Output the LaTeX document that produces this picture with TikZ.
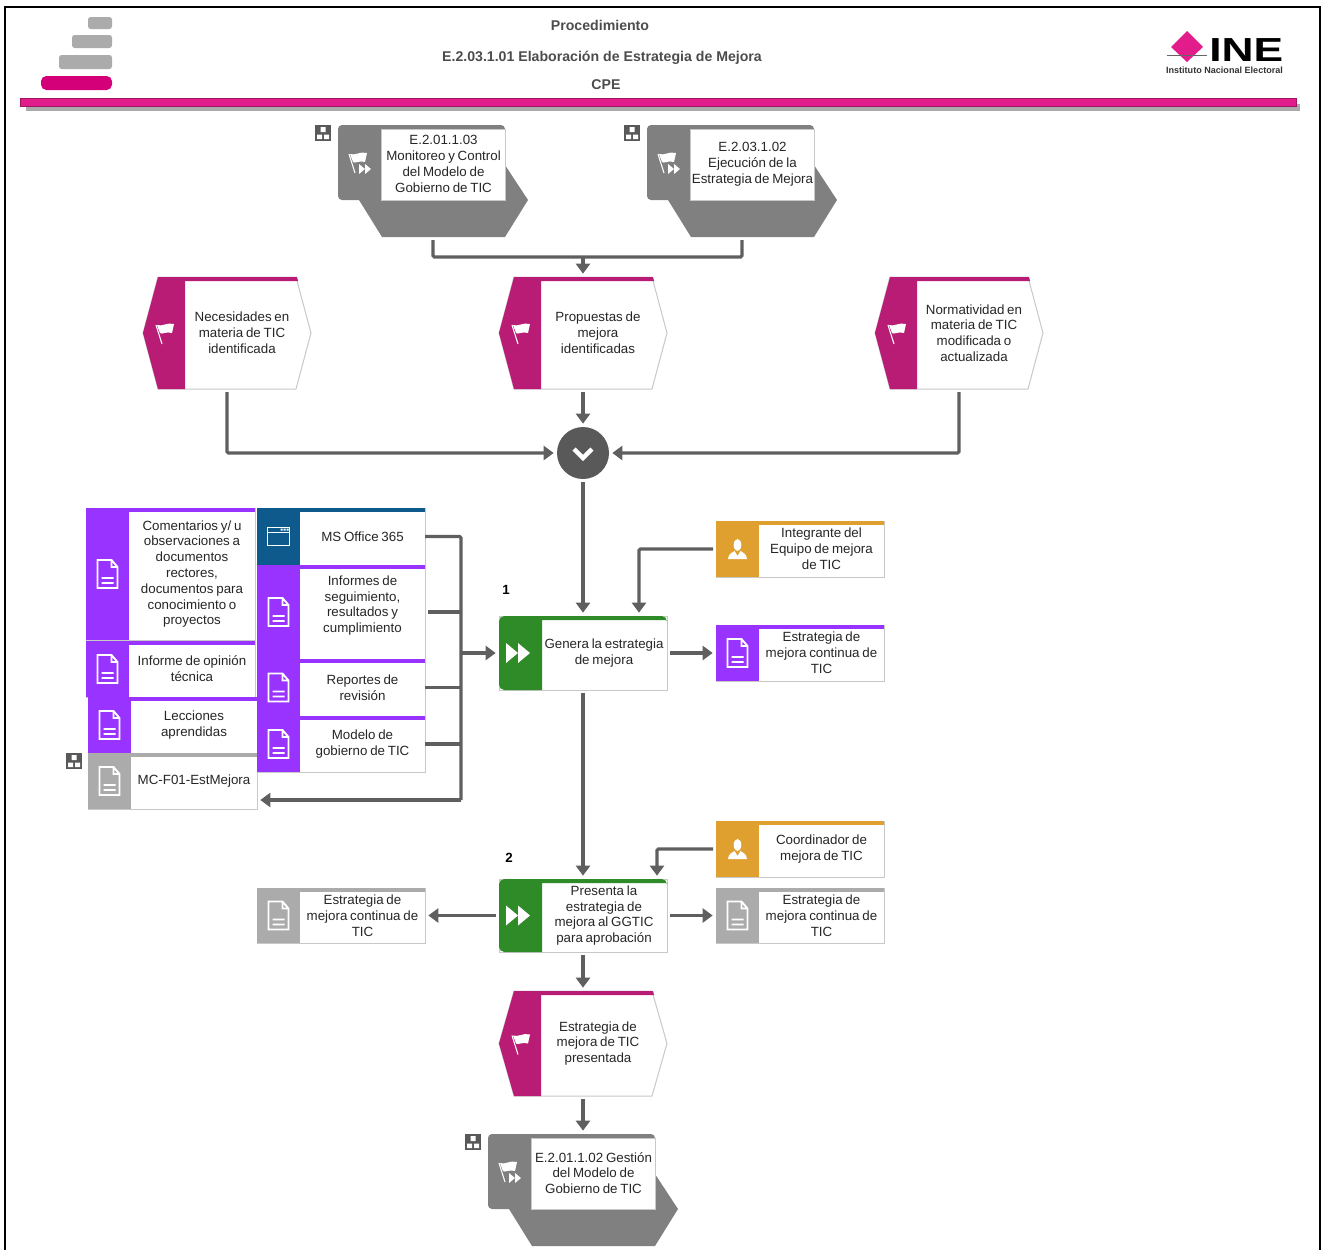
\documentclass[tikz,border=0pt]{standalone}
\usepackage{fontspec}
\setmainfont{Liberation Sans}
\newfontfamily\cardfont{Liberation Sans}[WordSpace=0.75]
\usetikzlibrary{arrows.meta}
\definecolor{wirec}{HTML}{5F5F5F}
\definecolor{edgec}{HTML}{C8C8C8}
\definecolor{docc}{HTML}{9933FF}
\definecolor{evtc}{HTML}{B81C74}
\definecolor{appc}{HTML}{0E5A8C}
\definecolor{rolec}{HTML}{E0A030}
\definecolor{taskc}{HTML}{2E8B27}
\definecolor{filec}{HTML}{ABABAB}
\definecolor{subc}{HTML}{808080}
\definecolor{mergec}{HTML}{595959}
\definecolor{rosec}{HTML}{E31C8C}
\definecolor{logoc}{HTML}{D4007A}
\tikzset{
	cardbody/.style={shape=rectangle, draw=edgec, fill=white, line width=0.75pt, inner sep=0pt, outer sep=0pt},
	cardtext/.style={anchor=center, align=center, inner sep=0pt, font=\cardfont\fontsize{10pt}{11.85pt}\selectfont, text=black!85},
	bound/.style={shape=rectangle, inner sep=0pt, outer sep=0pt, anchor=north west},
	wire/.style={draw=wirec, line width=2.4pt, shorten <=2.25pt, rounded corners=1pt},
	flow/.style={wire, shorten >=2.5pt, -{Triangle[length=7.5pt,width=10.5pt]}},
	titletext/.style={anchor=center, font=\fontsize{10.6pt}{12pt}\selectfont\bfseries, text=black!70}
}
% Icons, all at their centre
\newcommand{\docicon}[2]{\begin{scope}[shift={({#1},{#2})}, white, line width=1.4pt]
	\draw (-10,-14) -- (4,-14) -- (10,-7) -- (10,14) -- (-10,14) -- cycle (4,-14) -- (4,-7) -- (10,-7) (-6,4) -- (6,4) (-6,9) -- (6,9);
\end{scope}}
\newcommand{\flagshape}{\fill[white] (-8,-8) .. controls (-3,-6) and (2,-11) .. (9,-9) -- (7,0) .. controls (1,-2) and (-3,2) .. (-5,0) -- cycle;
	\draw[white, line width=0.8pt] (-9,-8) -- (-3,11);}
\newcommand{\flagicon}[2]{\begin{scope}[shift={({#1},{#2})}] \flagshape \end{scope}}
\newcommand{\flagplayicon}[2]{\begin{scope}[shift={({#1},{#2})}] \flagshape
	\fill[white] (1,2) -- (7,7) -- (1,12) -- cycle (7,2) -- (13,7) -- (7,12) -- cycle;
\end{scope}}
\newcommand{\playicon}[2]{\begin{scope}[shift={({#1},{#2})}]
	\fill[white] (-12,-10) -- (0,0) -- (-12,10) -- cycle (0,-10) -- (12,0) -- (0,10) -- cycle;
\end{scope}}
\newcommand{\personicon}[2]{\begin{scope}[shift={({#1},{#2})}]
	\fill[white] (0,-4) ellipse (3.8 and 6);
	\fill[white] (-9.5,10) .. controls (-9,4) and (-5,4) .. (-3,2) -- (0,7) -- (3,2) .. controls (5,4) and (9,4) .. (9.5,10) -- cycle;
\end{scope}}
\newcommand{\windowicon}[2]{\begin{scope}[shift={({#1},{#2})}, white]
	\draw[line width=1.4pt] (-11,-9) rectangle (11,9) (-11,-4) -- (11,-4);
	\fill (2,-8) rectangle (4,-6) (5,-8) rectangle (7,-6) (8,-8) rectangle (10,-6);
\end{scope}}
\newcommand{\hiericon}[2]{\begin{scope}[shift={({#1},{#2})}]
	\fill[mergec] (0,0) rectangle (16,16);
	\fill[white] (5.5,2) rectangle (10.5,7) (2,9.5) rectangle (7,14) (9,9.5) rectangle (14,14);
\end{scope}}
% name, x, y, width, height, colour, icon, text
\newcommand{\card}[8]{
	\node[cardbody, anchor=north west, minimum width=#4*0.75pt, minimum height=#5*0.75pt] (#1) at (#2,#3) {};
	\fill[#6] (#2,#3) rectangle ({#2+43},{#3+#5});
	\fill[#6] (#2,#3) rectangle ({#2+#4},{#3+4});
	#7{#2+21.5}{#3+#5/2}
	\node[cardtext] (#1-text) at ({#2+43+(#4-43)/2},{#3+#5/2}) {#8};
}
% name, x, y, height, text
\newcommand{\eventbox}[5]{
	\node[bound, minimum width=126pt, minimum height=#4*0.75pt] (#1) at (#2,#3) {};
	\draw[edgec, fill=white, line width=0.75pt] (#2,{#3+#4/2}) -- ({#2+15},#3) -- ({#2+153},#3) -- ({#2+168},{#3+#4/2}) -- ({#2+153},{#3+#4}) -- ({#2+15},{#3+#4}) -- cycle;
	\fill[evtc] (#2,{#3+#4/2}) -- ({#2+15},#3) -- ({#2+42},#3) -- ({#2+42},{#3+#4}) -- ({#2+15},{#3+#4}) -- cycle;
	\fill[evtc] ({#2+15},#3) -- ({#2+154},#3) -- ({#2+155},{#3+4}) -- ({#2+15},{#3+4}) -- cycle;
	\flagicon{#2+22}{#3+#4/2}
	\node[cardtext] (#1-text) at ({#2+99},{#3+#4/2}) {#5};
}
% name, x, y, text
\newcommand{\subproc}[4]{
	\node[bound, minimum width=142.5pt, minimum height=84pt] (#1) at (#2,#3) {};
	\fill[subc] ({#2+167},{#3+40}) [rounded corners=3pt] -- ({#2+167},#3) -- (#2,#3) -- (#2,{#3+75}) [sharp corners] -- ({#2+21},{#3+75}) -- ({#2+44},{#3+112}) -- ({#2+167},{#3+112}) -- ({#2+190},{#3+75}) -- cycle;
	\draw[edgec, fill=white, line width=0.75pt] ({#2+43},{#3+4}) rectangle ({#2+167},{#3+75});
	\flagplayicon{#2+20}{#3+37}
	\hiericon{#2-23}{#3}
	\node[cardtext] (#1-text) at ({#2+105.5},{#3+39}) {#4};
}
% name, x, y, height, text
\newcommand{\taskbox}[5]{
	\node[cardbody, anchor=north west, minimum width=126pt, minimum height=#4*0.75pt] (#1) at (#2,#3) {};
	\fill[taskc] ({#2+43},{#3+#4}) [rounded corners=4pt] -- (#2,{#3+#4}) -- (#2,#3) -- ({#2+168},#3) [sharp corners] -- ({#2+168},{#3+4}) -- ({#2+43},{#3+4}) -- cycle;
	\playicon{#2+19}{#3+#4/2}
	\node[cardtext] (#1-text) at ({#2+105},{#3+#4/2}) {#5};
}
\begin{document}
\begin{tikzpicture}[x=0.75pt, y=-0.75pt]
	\useasboundingbox (0,0) rectangle (1322,1250);
	% Frame and header:
	\draw[black, line width=1.7pt] (5,1250) -- (5,7) -- (1320,7) -- (1320,1250);
	\fill[filec, rounded corners=2pt] (88,17) rectangle (112,29);
	\fill[filec, rounded corners=2pt] (72,35) rectangle (112,48);
	\fill[filec, rounded corners=2pt] (59,55) rectangle (112,69);
	\fill[logoc, rounded corners=4pt] (41,76) rectangle (112,90);
	\fill[filec] (26,104) rectangle (1300,111);
	\draw[rosec!70!black, fill=rosec, line width=0.75pt] (20,98) rectangle (1296,106);
	\node[titletext] (titlea) at (600,25) {Procedimiento};
	\node[titletext] (titleb) at (602,58) {E.2.03.1.01 Elaboración de Estrategia de Mejora};
	\node[titletext] (titlec) at (606,85) {CPE};
	\fill[rosec] (1187,31) -- (1203,47) -- (1187,62) -- (1171,47) -- cycle;
	\draw[black!60, line width=0.75pt] (1167,55) -- (1207,55);
	\node[anchor=west, inner sep=0pt, font=\fontsize{25pt}{25pt}\selectfont\bfseries] (logoword) at (1209,50) {\scalebox{1.33}[1]{INE}};
	\node[anchor=center, inner sep=0pt, text=black!80, font=\fontsize{6.8pt}{7pt}\selectfont\bfseries] (logoname) at (1224.5,70.5) {Instituto Nacional Electoral};
	% Events and subprocesses:
	\subproc{suba}{338}{125}{E.2.01.1.03\\Monitoreo y Control\\del Modelo de\\Gobierno de TIC}
	\subproc{subb}{647}{125}{E.2.03.1.02\\Ejecución de la\\Estrategia de Mejora}
	\eventbox{eva}{143}{277}{112}{Necesidades en\\materia de TIC\\identificada}
	\eventbox{evb}{499}{277}{112}{Propuestas de\\mejora\\identificadas}
	\eventbox{evc}{875}{277}{112}{Normatividad en\\materia de TIC\\modificada o\\actualizada}
	\node[shape=circle, fill=mergec, inner sep=0pt, outer sep=0pt, minimum size=39pt] (merge) at (583,453) {};
	\draw[white, line width=3.2pt] (574,449) -- (583,458) -- (592,449);
	% Inputs:
	\card{coment}{86}{508}{169}{132}{docc}{\docicon}{Comentarios y/ u\\observaciones a\\documentos\\rectores,\\documentos para\\conocimiento o\\proyectos}
	\card{opinion}{86}{641}{169}{56}{docc}{\docicon}{Informe de opinión\\técnica}
	\card{lecc}{88}{697}{169}{56}{docc}{\docicon}{Lecciones\\aprendidas}
	\card{mcf}{88}{753}{169}{56}{filec}{\docicon}{MC-F01-EstMejora}
	\hiericon{66}{753}
	\card{office}{257}{508}{168}{57}{appc}{\windowicon}{MS Office 365}
	\card{inform}{257}{565}{168}{94}{docc}{\docicon}{Informes de\\seguimiento,\\resultados y\\cumplimiento\\\mbox{}}
	\card{report}{257}{659}{168}{57}{docc}{\docicon}{Reportes de\\revisión}
	\card{modelo}{257}{716}{168}{56}{docc}{\docicon}{Modelo de\\gobierno de TIC}
	% Tasks:
	\taskbox{taska}{499}{616}{74}{Genera la estrategia\\de mejora}
	\card{integ}{716}{521}{168}{56}{rolec}{\personicon}{Integrante del\\Equipo de mejora\\de TIC}
	\card{estra}{716}{625}{168}{56}{docc}{\docicon}{Estrategia de\\mejora continua de\\TIC}
	\node[font=\fontsize{10pt}{12pt}\selectfont\bfseries] (numa) at (506,590) {1};
	\taskbox{taskb}{499}{879}{73}{Presenta la\\estrategia de\\mejora al GGTIC\\para aprobación}
	\card{coord}{716}{821}{168}{56}{rolec}{\personicon}{Coordinador de\\mejora de TIC}
	\card{estrb}{716}{888}{168}{55}{filec}{\docicon}{Estrategia de\\mejora continua de\\TIC}
	\card{estrc}{257}{888}{168}{55}{filec}{\docicon}{Estrategia de\\mejora continua de\\TIC}
	\node[font=\fontsize{10pt}{12pt}\selectfont\bfseries] (numb) at (509,858) {2};
	\eventbox{evd}{499}{991}{105}{Estrategia de\\mejora de TIC\\presentada}
	\subproc{subc}{488}{1134}{E.2.01.1.02 Gestión\\del Modelo de\\Gobierno de TIC}
	% Wires:
	\coordinate (join) at (583,257);
	\coordinate (bus) at (461,653);
	\coordinate (busend) at (461,800);
	\coordinate (taska-in) at (639,616);
	\coordinate (taskb-in) at (657,879);
	\draw[wire] (suba.south) |- (join);
	\draw[wire] (subb.south) |- (join);
	\draw[flow, shorten <=0pt] (join) -- (evb.north);
	\draw[flow] (eva.south) |- (merge.west);
	\draw[flow] (evb.south) -- (merge.north);
	\draw[flow] (evc.south) |- (merge.east);
	\draw[flow] (merge.south) -- (taska.north);
	\draw[flow] (integ.west) -| (taska-in);
	\draw[flow] (taska.east) -- (estra.west);
	\draw[flow] (taska.south) -- (taskb.north);
	\draw[flow] (coord.west) -| (taskb-in);
	\draw[flow] (taskb.east) -- (estrb.west);
	\draw[flow] (taskb.west) -- (estrc.east);
	\draw[flow] (taskb.south) -- (evd.north);
	\draw[flow] (evd.south) -- (subc.north);
	\draw[wire, shorten <=0pt] (office.east) -| (busend);
	\draw[wire] (inform.east) -- (inform.east -| bus);
	\draw[wire, shorten <=0pt] (report.east) -- (report.east -| bus);
	\draw[wire, shorten <=0pt] (modelo.east) -- (modelo.east -| bus);
	\draw[flow, shorten <=0pt] (bus) -- (taska.west);
	\draw[flow, shorten <=0pt] (busend) -- (busend -| mcf.east);
\end{tikzpicture}
\end{document}
